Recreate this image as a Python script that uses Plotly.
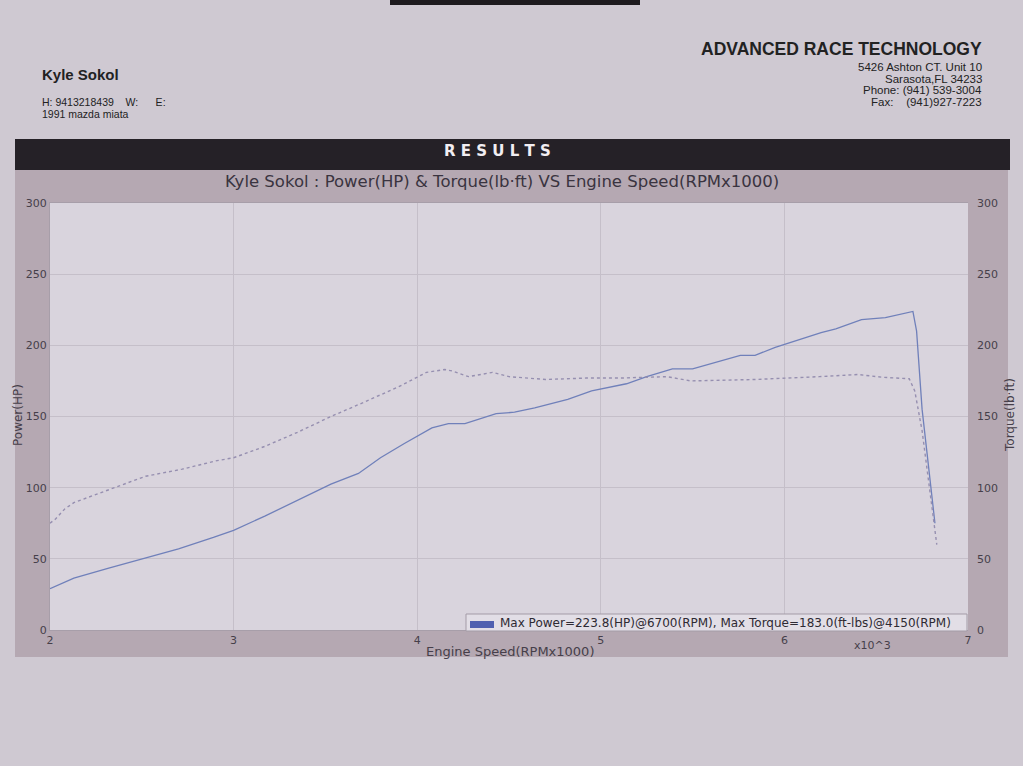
import plotly.graph_objects as go

# ---------------- data ----------------
rpm_power = [2.00, 2.13, 2.32, 2.51, 2.70, 2.89, 3.00, 3.17, 3.35, 3.53, 3.68, 3.80, 3.93,
             4.08, 4.17, 4.26, 4.43, 4.53, 4.64, 4.82, 4.95, 5.14, 5.25, 5.39, 5.50, 5.76,
             5.84, 5.95, 6.20, 6.28, 6.42, 6.55, 6.70, 6.72, 6.75, 6.79, 6.82]
power_hp = [29, 36.5, 43.5, 50.5, 57, 65, 70, 80, 91, 102.5, 110, 121, 131,
            142, 145, 145, 152, 153, 156, 162, 168, 173, 178, 183.5, 183.5, 193,
            193, 198.5, 209, 211.5, 218, 219.5, 223.8, 210, 155, 110, 75]

rpm_torque = [2.00, 2.03, 2.08, 2.13, 2.33, 2.52, 2.72, 2.91, 3.00, 3.17, 3.35, 3.53, 3.71,
              3.90, 4.05, 4.15, 4.19, 4.28, 4.41, 4.50, 4.70, 4.92, 5.10, 5.36, 5.49, 5.65,
              5.84, 6.19, 6.40, 6.54, 6.68, 6.71, 6.75, 6.79, 6.83]
torque_lbft = [75, 78, 85, 89.5, 99, 108, 113, 119, 121, 129, 139, 150, 160,
               171, 181, 183.0, 182, 178, 181, 178, 176, 177, 177, 178, 175, 175.5,
               176, 178, 179.5, 177.5, 176.5, 168, 140, 100, 60]

x_ticks = [2, 3, 4, 5, 6, 7]
y_ticks = [0, 50, 100, 150, 200, 250, 300]

header_left = ["Kyle Sokol", "H: 9413218439    W:      E:", "1991 mazda miata"]
header_right = ["ADVANCED RACE TECHNOLOGY", "5426 Ashton CT. Unit 10", "Sarasota,FL 34233",
                "Phone: (941) 539-3004", "Fax:    (941)927-7223"]
chart_title = "Kyle Sokol : Power(HP) & Torque(lb·ft) VS Engine Speed(RPMx1000)"

# ---------------- layout helpers (screen pixel coordinates) ----------------
W_PX, H_PX = 1023, 766
L, R, T, B = 50, 968, 203, 630
PW, PH = R - L, B - T


def px(x):
    return (x - L) / PW


def py(y):
    return (B - y) / PH


PAGE = "#cfc9d2"
FRAME = "#b5a8b2"
PLOTBG = "#d9d4dd"
GRID = "#c5bfc9"
TXT = "#463f4a"

imax = power_hp.index(max(power_hp))
tmax = torque_lbft.index(max(torque_lbft))
legend_text = (f"Max Power={power_hp[imax]:.1f}(HP)@{round(rpm_power[imax]*1000)}(RPM), "
               f"Max Torque={torque_lbft[tmax]:.1f}(ft-lbs)@{round(rpm_torque[tmax]*1000)}(RPM)")

fig = go.Figure()
fig.add_trace(go.Scatter(x=rpm_power, y=power_hp, mode="lines", name="Power",
                         line=dict(color="#7080ba", width=1.3), yaxis="y"))
fig.add_trace(go.Scatter(x=rpm_torque, y=torque_lbft, mode="lines", name="Torque",
                         line=dict(color="#968fb0", width=1.4, dash="dot"), yaxis="y2"))

shapes = []


def rect(x0, y0, x1, y1, fill, line=None, layer="below"):
    shapes.append(dict(type="rect", xref="paper", yref="paper",
                       x0=px(x0), x1=px(x1), y0=py(y1), y1=py(y0),
                       fillcolor=fill, line=dict(width=1 if line else 0, color=line or fill),
                       layer=layer))


# dark strip at the very top
rect(390, 0, 640, 5, "#1e1b1f")
# RESULTS bar
rect(15, 139, 1010, 170, "#252127")
# chart frame (four strips around plot area)
rect(15, 170, 1008, T, FRAME)
rect(15, B, 1008, 657, FRAME)
rect(15, T, L, B, FRAME)
rect(R, T, 1008, B, FRAME)
# legend box
rect(466, 614, 967, 631, "#e2dee6", line="#a39ba6", layer="above")
rect(470, 621, 494, 628, "#4f5fb0", layer="above")

ann = []


def text(x, y, s, size, xanchor="left", bold=False, color=TXT, family="Liberation Sans",
         angle=0, yanchor="middle"):
    ann.append(dict(xref="paper", yref="paper", x=px(x), y=py(y), text=(f"<b>{s}</b>" if bold else s),
                    showarrow=False, xanchor=xanchor, yanchor=yanchor, textangle=angle,
                    font=dict(size=size, color=color, family=family)))


text(40, 75, header_left[0], 15, bold=True, color="#222")
text(40, 102, header_left[1], 10.5, color="#222")
text(40, 114, header_left[2], 10.5, color="#222")
text(984, 49, header_right[0], 17.5, xanchor="right", bold=True, color="#222")
for i, s in enumerate(header_right[1:]):
    text(984, 67 + i * 11.7, s, 11.5, xanchor="right", color="#222")

text(497, 151, "R E S U L T S", 15, xanchor="center", bold=True, color="#f2eef2",
     family="DejaVu Sans")
text(502, 182, chart_title, 16.5, xanchor="center", color="#3a3440", family="DejaVu Sans")
text(18, 415, "Power(HP)", 12, xanchor="center", color=TXT, family="DejaVu Sans", angle=-90)
text(1010, 415, "Torque(lb·ft)", 12, xanchor="center", color=TXT, family="DejaVu Sans", angle=-90)
text(424, 651, "Engine Speed(RPMx1000)", 13, color=TXT, family="DejaVu Sans")
text(852, 645, "x10^3", 11, color=TXT, family="DejaVu Sans")
text(498, 623, legend_text, 12, color="#2e2a33", family="DejaVu Sans")

axis_font = dict(size=11, color=TXT, family="DejaVu Sans")
fig.update_layout(
    width=W_PX, height=H_PX,
    margin=dict(l=L, r=W_PX - R, t=T, b=H_PX - B, pad=0),
    paper_bgcolor=PAGE, plot_bgcolor=PLOTBG,
    showlegend=False,
    xaxis=dict(range=[2, 7], tickvals=x_ticks, ticktext=[str(v) for v in x_ticks],
               showgrid=True, gridcolor=GRID, gridwidth=1, zeroline=False,
               showline=True, linecolor="#a79ea9", mirror=True, tickfont=axis_font,
               ticks=""),
    yaxis=dict(range=[0, 300], tickvals=y_ticks, showgrid=True, gridcolor=GRID, gridwidth=1,
               zeroline=False, showline=True, linecolor="#a79ea9", tickfont=axis_font, ticks=""),
    yaxis2=dict(range=[0, 300], tickvals=y_ticks, overlaying="y", side="right", showgrid=False,
                zeroline=False, tickfont=axis_font, ticks="", ticklabelstandoff=8),
    shapes=shapes, annotations=ann,
)

fig.write_html("out.html", config={"displayModeBar": False},
               post_script="document.body.style.margin='0';document.body.style.background='%s';" % PAGE)
